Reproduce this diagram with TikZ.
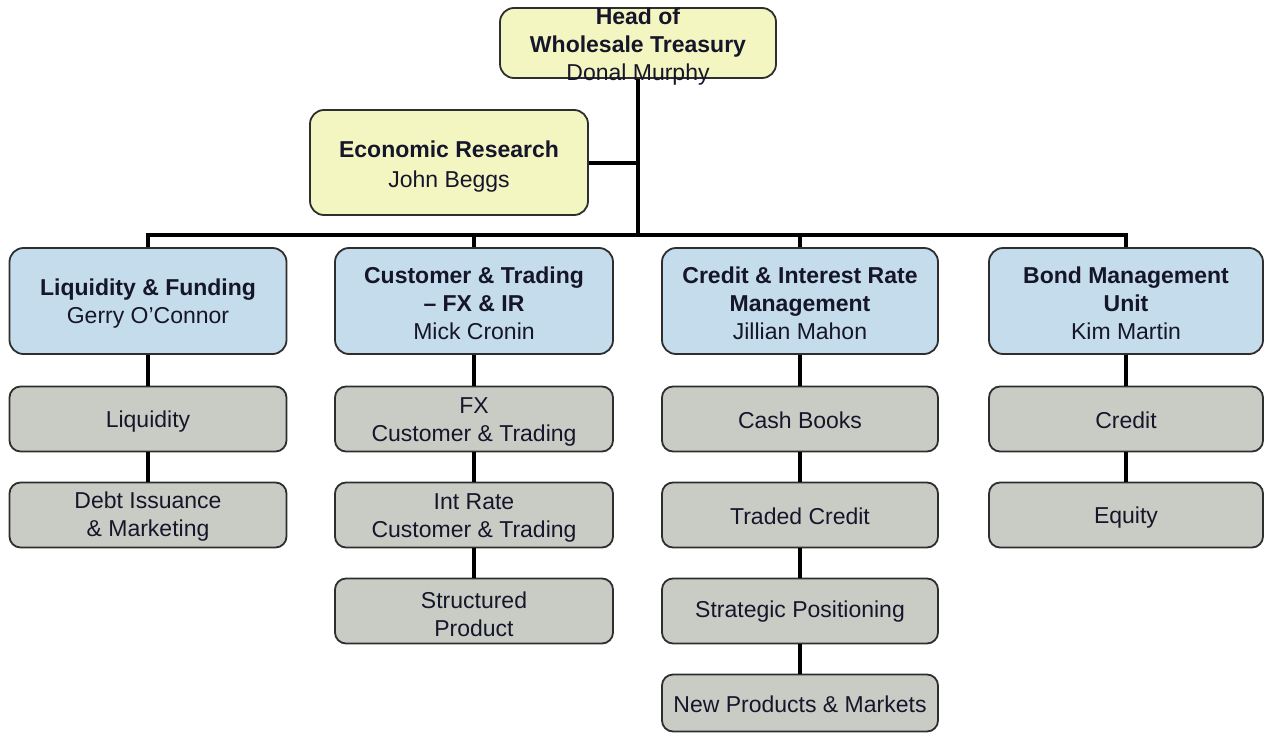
\documentclass[tikz,border=0pt]{standalone}
\usepackage{fontspec}
\setmainfont{Liberation Sans}
\definecolor{yfill}{HTML}{F4F6C2}
\definecolor{bfill}{HTML}{C4DCEB}
\definecolor{gfill}{HTML}{C9CCC5}
\definecolor{edge}{HTML}{2E2E2E}
\definecolor{ink}{HTML}{16162A}
\newcommand{\orgbox}[5]{%
  \node[#1, minimum width=#2] (#3) at #4 {};
  \node[txt] (#3-t) at ([yshift=-4pt]#3.center) {#5};}
\begin{document}
\begin{tikzpicture}[x=1pt,y=-1pt,
  base/.style={draw=edge, line width=1.8pt, inner sep=0pt},
  ybox/.style={base, fill=yfill, rounded corners=14pt},
  bbox/.style={base, fill=bfill, rounded corners=14pt, minimum height=106pt},
  gbox/.style={base, fill=gfill, rounded corners=11pt, minimum height=65pt},
  txt/.style={inner sep=0pt, align=center, text=ink, font=\fontsize{23}{28}\selectfont},
  conn/.style={draw=black, line width=4pt}]
\useasboundingbox[fill=white] (0,0) rectangle (1265,736);

\coordinate (bus) at (638,235);

% boxes
\node[ybox, minimum width=276pt, minimum height=70pt] (head) at (638,43) {};
\node[ybox, minimum width=278pt, minimum height=105pt] (econ) at (449,162.5) {};

\node[bbox, minimum width=277pt] (lf) at (148,301) {};
\node[bbox, minimum width=278pt] (ct) at (474,301) {};
\node[bbox, minimum width=276pt] (ci) at (800,301) {};
\node[bbox, minimum width=274pt] (bm) at (1126,301) {};

\node[gbox, minimum width=277pt] (lf1) at (148,419) {};
\node[gbox, minimum width=277pt] (lf2) at (148,515) {};
\node[gbox, minimum width=278pt] (ct1) at (474,419) {};
\node[gbox, minimum width=278pt] (ct2) at (474,515) {};
\node[gbox, minimum width=278pt] (ct3) at (474,611) {};
\node[gbox, minimum width=276pt] (ci1) at (800,419) {};
\node[gbox, minimum width=276pt] (ci2) at (800,515) {};
\node[gbox, minimum width=276pt] (ci3) at (800,611) {};
\node[gbox, minimum width=276pt, minimum height=57pt] (ci4) at (800,703) {};
\node[gbox, minimum width=274pt] (bm1) at (1126,419) {};
\node[gbox, minimum width=274pt] (bm2) at (1126,515) {};

% connectors
\draw[conn] (head.south) -- (bus);
\draw[conn] (econ.east) -- (econ.east -| head.south);
\draw[conn] (lf.north) -- (lf.north |- bus) -- (bus);
\draw[conn] (ct.north) -- (ct.north |- bus);
\draw[conn] (ci.north) -- (ci.north |- bus);
\draw[conn] (bm.north) -- (bm.north |- bus) -- (bus);
\draw[conn] (lf.south) -- (lf1.north);
\draw[conn] (lf1.south) -- (lf2.north);
\draw[conn] (ct.south) -- (ct1.north);
\draw[conn] (ct1.south) -- (ct2.north);
\draw[conn] (ct2.south) -- (ct3.north);
\draw[conn] (ci.south) -- (ci1.north);
\draw[conn] (ci1.south) -- (ci2.north);
\draw[conn] (ci2.south) -- (ci3.north);
\draw[conn] (ci3.south) -- (ci4.north);
\draw[conn] (bm.south) -- (bm1.north);
\draw[conn] (bm1.south) -- (bm2.north);

% texts
\node[txt] (head-t) at ([yshift=-4pt]head.center) {\textbf{Head of}\\\textbf{Wholesale Treasury}\\Donal Murphy};
\node[txt, font=\fontsize{23}{30}\selectfont] (econ-t) at ([yshift=-4pt]econ.center) {\textbf{Economic Research}\\John Beggs};
\node[txt] (lf-t) at ([yshift=-3pt]lf.center) {\textbf{Liquidity \& Funding}\\Gerry O’Connor};
\node[txt] (ct-t) at ([yshift=-2pt]ct.center) {\textbf{Customer \& Trading}\\\textbf{– FX \& IR}\\Mick Cronin};
\node[txt] (ci-t) at ([yshift=-2pt]ci.center) {\textbf{Credit \& Interest Rate}\\\textbf{Management}\\Jillian Mahon};
\node[txt] (bm-t) at ([yshift=-2pt]bm.center) {\textbf{Bond Management}\\\textbf{Unit}\\Kim Martin};
\node[txt] (lf1-t) at ([yshift=-3pt]lf1.center) {Liquidity};
\node[txt] (lf2-t) at ([yshift=-2pt]lf2.center) {Debt Issuance\\\& Marketing};
\node[txt] (ct1-t) at ([yshift=-3pt]ct1.center) {FX\\Customer \& Trading};
\node[txt] (ct2-t) at ([yshift=-3pt]ct2.center) {Int Rate\\Customer \& Trading};
\node[txt] (ct3-t) at ([yshift=-3pt]ct3.center) {Structured\\Product};
\node[txt] (ci1-t) at ([yshift=-1pt]ci1.center) {Cash Books};
\node[txt] (ci2-t) at ([yshift=-1pt]ci2.center) {Traded Credit};
\node[txt] (ci3-t) at ([yshift=-1pt]ci3.center) {Strategic Positioning};
\node[txt] (ci4-t) at ([yshift=-1pt]ci4.center) {New Products \& Markets};
\node[txt] (bm1-t) at ([yshift=-1pt]bm1.center) {Credit};
\node[txt] (bm2-t) at ([yshift=-3pt]bm2.center) {Equity};
\end{tikzpicture}
\end{document}
